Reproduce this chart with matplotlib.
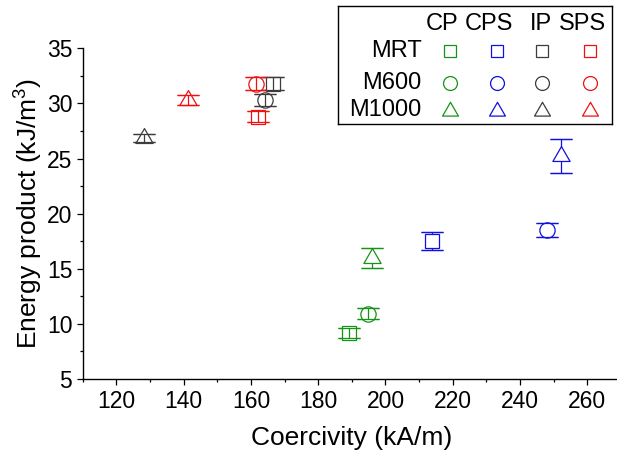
import matplotlib
matplotlib.use("Agg")
import matplotlib.pyplot as plt
from matplotlib.path import Path
from matplotlib.ticker import MultipleLocator
import numpy as np

plt.rcParams['font.family'] = ['Liberation Sans', 'DejaVu Sans']

# ---- data -------------------------------------------------------------
powders = ['MRT', 'M600', 'M1000']
methods = ['CP', 'CPS', 'IP', 'SPS']

# coercivity (kA/m), energy product (kJ/m^3) and its error, per powder
cp_hc = [189.1, 194.7, 196.0]
cp_bh = [9.17, 10.93, 15.98]
cp_err = [0.42, 0.48, 0.94]

cps_hc = [213.9, 248.0, 252.3]
cps_bh = [17.5, 18.52, 25.2]
cps_err = [0.80, 0.66, 1.54]

ip_hc = [166.6, 164.1, 128.2]
ip_bh = [31.8, 30.3, 26.9]
ip_err = [0.56, 0.56, 0.36]

sps_hc = [162.1, 161.4, 141.2]
sps_bh = [28.8, 31.8, 30.3]
sps_err = [0.51, 0.56, 0.45]

x_ticks = [120, 140, 160, 180, 200, 220, 240, 260]
y_ticks = [5, 10, 15, 20, 25, 30, 35]

# ---- style ------------------------------------------------------------
colors = {'CP': '#149414', 'CPS': '#1010e0', 'IP': '#3c3c3c', 'SPS': '#f01010'}
tri = Path([(0, 0.577), (-0.5, -0.289), (0.5, -0.289), (0, 0.577)],
           [Path.MOVETO, Path.LINETO, Path.LINETO, Path.CLOSEPOLY])
markers = {'MRT': ('s', 10.0), 'M600': ('o', 11.0), 'M1000': (tri, 14.3)}
lw = 0.9
capsize = 7.8
series = {
    'CP': (cp_hc, cp_bh, cp_err),
    'CPS': (cps_hc, cps_bh, cps_err),
    'IP': (ip_hc, ip_bh, ip_err),
    'SPS': (sps_hc, sps_bh, sps_err),
}

W, H = 617, 457
fig = plt.figure(figsize=(W / 100, H / 100), dpi=100)
x0, x1, y_bot, y_top = 82.7, 621.0, 379.0, 48.3
ax = fig.add_axes([x0 / W, (H - y_bot) / H, (x1 - x0) / W, (y_bot - y_top) / H])

ax.set_xlim(110, 270)
ax.set_ylim(5, 35)

# error bars inside the symbol stay visible; longer ones are hidden by the symbol fill
inner_limit = 0.6
for m in methods:
    hc, bh, err = series[m]
    c = colors[m]
    for i, p in enumerate(powders):
        mk, ms = markers[p]
        ax.errorbar([hc[i]], [bh[i]], yerr=[err[i]], fmt='none', ecolor=c,
                    elinewidth=lw, capsize=capsize, capthick=lw, zorder=2)
        ax.plot([hc[i]], [bh[i]], linestyle='none', marker=mk, markersize=ms,
                markerfacecolor='white', markeredgecolor=c, markeredgewidth=lw,
                zorder=3)
        if err[i] < inner_limit:
            ax.errorbar([hc[i]], [bh[i]], yerr=[err[i]], fmt='none', ecolor=c,
                        elinewidth=lw, capsize=capsize, capthick=lw, zorder=4)
        else:
            ax.errorbar([hc[i]], [bh[i]], yerr=[err[i]], fmt='none', ecolor=c,
                        elinewidth=0, capsize=capsize, capthick=lw, zorder=4)

# axes styling
for side in ('top', 'right'):
    ax.spines[side].set_visible(False)
for side in ('left', 'bottom'):
    ax.spines[side].set_linewidth(1.0)
    ax.spines[side].set_color('black')

ax.set_xticks(x_ticks)
ax.set_yticks(y_ticks)
ax.set_xticklabels([str(v) for v in x_ticks])
ax.set_yticklabels([str(v) for v in y_ticks])
ax.xaxis.set_minor_locator(MultipleLocator(10))
ax.yaxis.set_minor_locator(MultipleLocator(2.5))
ax.tick_params(which='major', direction='out', length=4, width=0.9,
               labelsize=16.5, colors='black')
ax.tick_params(which='minor', direction='out', length=2.2, width=0.9)
ax.tick_params(axis='x', which='major', pad=4)
ax.tick_params(axis='y', which='major', pad=3.5)

fig.text(352 / W, 1 - 438 / H, 'Coercivity (kA/m)', ha='center', va='center',
         fontsize=19)
fig.text(28 / W, 1 - 213 / H, 'Energy product (kJ/m$^\\mathregular{3}$)',
         ha='center', va='center', rotation=90, fontsize=19)

# ---- legend grid ------------------------------------------------------
bx0, bx1, by_top, by_bot = 338.0, 612.0, 6.0, 124.0
lg = fig.add_axes([bx0 / W, (H - by_bot) / H, (bx1 - bx0) / W, (by_bot - by_top) / H])
lg.set_xlim(bx0, bx1)
lg.set_ylim(by_bot, by_top)
lg.set_xticks([])
lg.set_yticks([])
for s in lg.spines.values():
    s.set_linewidth(1.0)
    s.set_color('black')

col_x = {'CP': 450.0, 'CPS': 496.7, 'IP': 541.7, 'SPS': 590.0}
head_x = {'CP': 441.7, 'CPS': 488.8, 'IP': 541.0, 'SPS': 582.5}
row_y = {'MRT': 50.7, 'M600': 83.3, 'M1000': 110.5}
leg_ms = {'MRT': 8.8, 'M600': 10.0, 'M1000': 13.2}

for m in methods:
    lg.text(head_x[m], 23.5, m, ha='center', va='center', fontsize=17)
for p in powders:
    lg.text(421.7, row_y[p], p, ha='right', va='center', fontsize=17)
    for m in methods:
        mk, _ = markers[p]
        lg.plot([col_x[m]], [row_y[p]], linestyle='none', marker=mk,
                markersize=leg_ms[p], markerfacecolor='none',
                markeredgecolor=colors[m], markeredgewidth=lw)

fig.savefig('out.png', dpi=100)
